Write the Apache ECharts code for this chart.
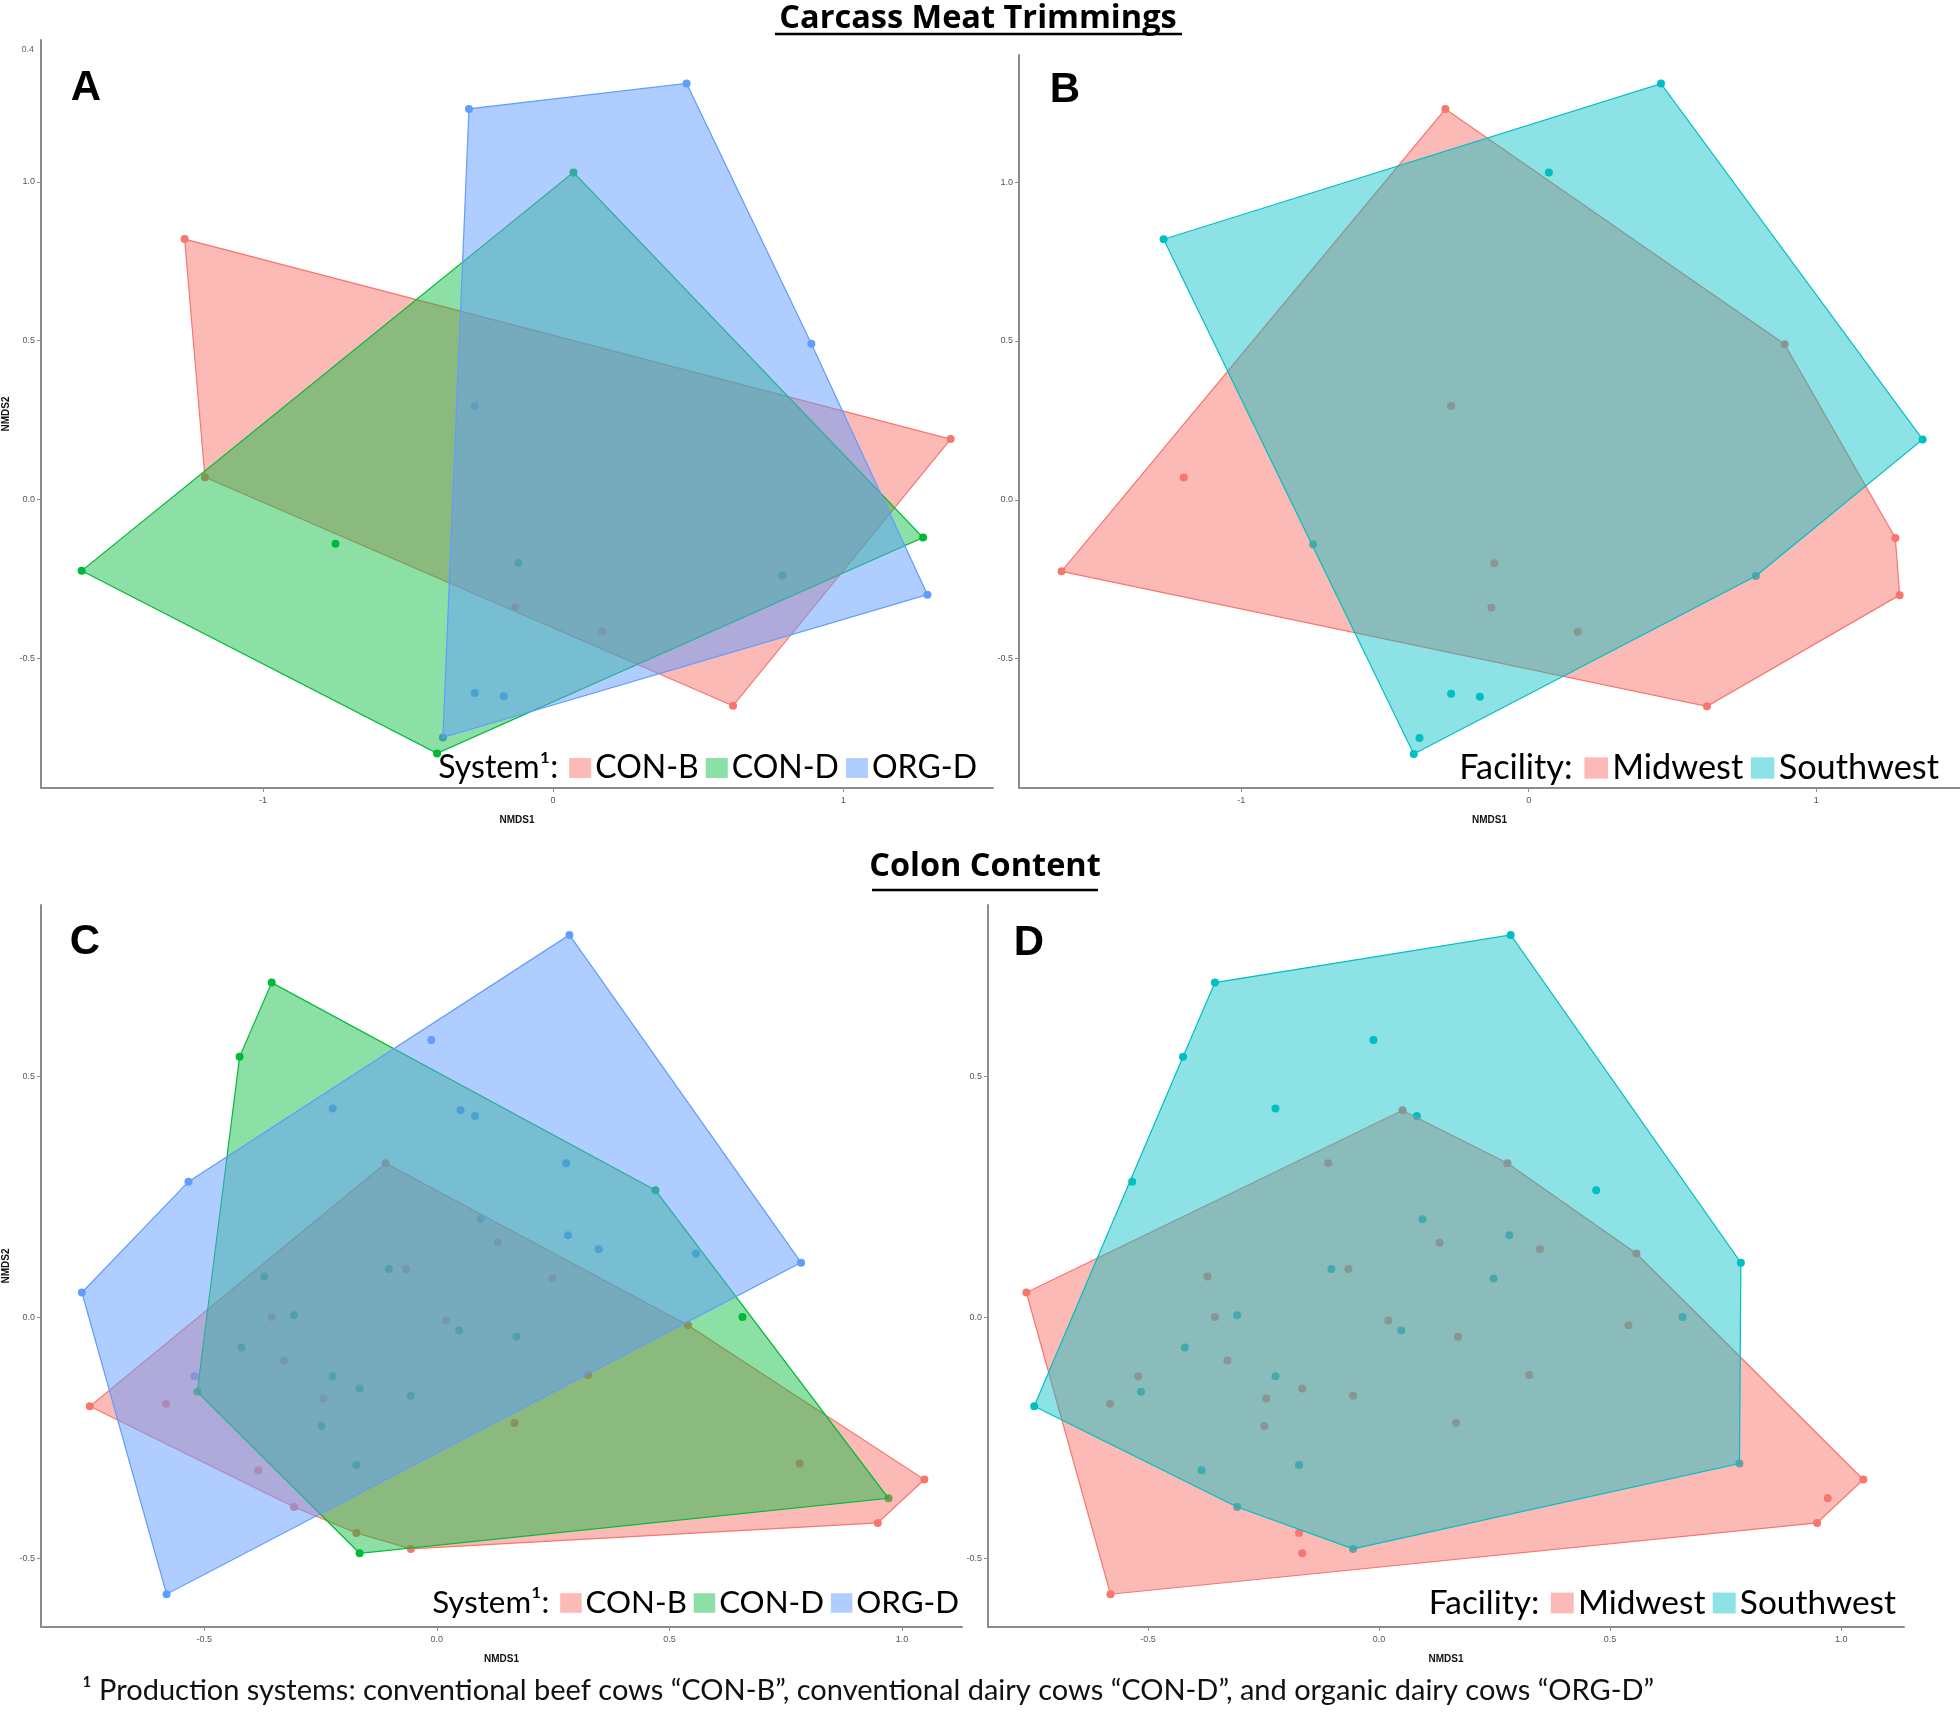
<!DOCTYPE html>
<html>
<head>
<meta charset="utf-8">
<script src="https://cdn.jsdelivr.net/npm/echarts@6/dist/echarts.min.js"></script>
<style>
html, body { margin: 0; background: #fff; }
#main { width: 1960px; height: 1717px; }
</style>
</head>
<body>
<div id="main"></div>
<script>
// carcass meat trimmings (panels A, B)
const carcassX = [-1.27, -1.20, 1.37, 0.62, -0.29, 0.46, 0.07, 0.89, 1.29, -0.38, -0.27,
  -0.17, -0.27, -0.40, -1.625, -0.75, 1.275, -0.12, -0.13, 0.17, 0.79]
const carcassY = [0.82, 0.07, 0.19, -0.65, 1.23, 1.31, 1.03, 0.49, -0.30, -0.75, -0.61,
  -0.62, 0.295, -0.80, -0.225, -0.14, -0.12, -0.20, -0.34, -0.415, -0.24]
const carcassSystem = ['CON-B', 'CON-B', 'CON-B', 'CON-B', 'ORG-D', 'ORG-D', 'CON-D', 'ORG-D', 'ORG-D', 'ORG-D', 'ORG-D',
  'ORG-D', 'ORG-D', 'CON-D', 'CON-D', 'CON-D', 'CON-D', 'CON-D', 'CON-B', 'CON-B', 'CON-D']
const carcassFacility = ['Southwest', 'Midwest', 'Southwest', 'Midwest', 'Midwest', 'Southwest', 'Southwest', 'Midwest', 'Midwest', 'Southwest', 'Southwest',
  'Southwest', 'Midwest', 'Southwest', 'Midwest', 'Southwest', 'Midwest', 'Midwest', 'Midwest', 'Midwest', 'Southwest']

// colon content (panels C, D)
const colonX = [0.285, 0.783, -0.763, -0.581, -0.534, -0.012, -0.224, 0.051, 0.082, 0.278,
  0.470, 0.282, 0.348, 0.557, 0.657, -0.582, -0.521, -0.515, -0.355, -0.424,
  -0.166, 0.971, -0.746, -0.110, 1.048, 0.948, -0.056, -0.173, -0.307, 0.540,
  0.780, -0.384, 0.094, 0.131, -0.103, -0.066, -0.371, -0.355, -0.307, 0.020,
  0.048, 0.248, 0.171, -0.420, -0.328, 0.325, -0.224, -0.166, -0.056, -0.244,
  -0.248, 0.167, -0.173]
const colonY = [0.793, 0.113, 0.051, -0.575, 0.281, 0.575, 0.433, 0.429, 0.417, 0.319,
  0.263, 0.170, 0.141, 0.132, 0.000, -0.180, -0.123, -0.155, 0.694, 0.540,
  -0.490, -0.376, -0.185, 0.319, -0.337, -0.427, -0.481, -0.448, -0.394, -0.017,
  -0.304, -0.318, 0.203, 0.154, 0.100, 0.100, 0.084, 0.000, 0.004, -0.007,
  -0.028, 0.080, -0.041, -0.063, -0.090, -0.120, -0.123, -0.148, -0.163, -0.169,
  -0.226, -0.220, -0.307]
const colonSystem = ['ORG-D', 'ORG-D', 'ORG-D', 'ORG-D', 'ORG-D', 'ORG-D', 'ORG-D', 'ORG-D', 'ORG-D', 'ORG-D',
  'CON-D', 'ORG-D', 'ORG-D', 'ORG-D', 'CON-D', 'CON-B', 'ORG-D', 'CON-D', 'CON-D', 'CON-D',
  'CON-D', 'CON-D', 'CON-B', 'CON-B', 'CON-B', 'CON-B', 'CON-B', 'CON-B', 'CON-B', 'CON-B',
  'CON-B', 'CON-B', 'ORG-D', 'CON-B', 'CON-D', 'CON-B', 'CON-D', 'CON-B', 'CON-D', 'CON-B',
  'CON-D', 'CON-B', 'CON-D', 'CON-D', 'CON-B', 'CON-B', 'CON-D', 'CON-D', 'CON-D', 'CON-B',
  'CON-D', 'CON-B', 'CON-D']
const colonFacility = ['Southwest', 'Southwest', 'Midwest', 'Midwest', 'Southwest', 'Southwest', 'Southwest', 'Midwest', 'Southwest', 'Midwest',
  'Southwest', 'Southwest', 'Midwest', 'Midwest', 'Southwest', 'Midwest', 'Midwest', 'Southwest', 'Southwest', 'Southwest',
  'Midwest', 'Midwest', 'Southwest', 'Midwest', 'Midwest', 'Midwest', 'Southwest', 'Midwest', 'Southwest', 'Midwest',
  'Southwest', 'Southwest', 'Southwest', 'Midwest', 'Southwest', 'Midwest', 'Midwest', 'Midwest', 'Southwest', 'Midwest',
  'Southwest', 'Southwest', 'Midwest', 'Southwest', 'Midwest', 'Midwest', 'Southwest', 'Midwest', 'Midwest', 'Midwest',
  'Midwest', 'Midwest', 'Southwest']

const systemNames = ['CON-B', 'CON-D', 'ORG-D']
const facilityNames = ['Midwest', 'Southwest']
const carcassXTicks = [-1, 0, 1]
const carcassYTicks = [-0.5, 0, 0.5, 1]
const colonXTicks = [-0.5, 0, 0.5, 1]
const colonYTicks = [-0.5, 0, 0.5]

const systemColors = ['#F8766D', '#00BA38', '#619CFF']
const systemAlpha = [0.5, 0.45, 0.5]
const facilityColors = ['#F8766D', '#00BFC4']
const facilityAlpha = [0.5, 0.45]

function rgba (hex, a) {
  const n = parseInt(hex.slice(1), 16)
  return 'rgba(' + (n >> 16) + ',' + ((n >> 8) & 255) + ',' + (n & 255) + ',' + a + ')'
}

// convex hull (monotone chain)
function hull (pts) {
  const p = pts.slice().sort((a, b) => a[0] - b[0] || a[1] - b[1])
  const cross = (o, a, b) => (a[0] - o[0]) * (b[1] - o[1]) - (a[1] - o[1]) * (b[0] - o[0])
  const lower = []
  const upper = []
  for (const q of p) {
    while (lower.length >= 2 && cross(lower[lower.length - 2], lower[lower.length - 1], q) <= 0) lower.pop()
    lower.push(q)
  }
  for (let i = p.length - 1; i >= 0; i--) {
    const q = p[i]
    while (upper.length >= 2 && cross(upper[upper.length - 2], upper[upper.length - 1], q) <= 0) upper.pop()
    upper.push(q)
  }
  upper.pop()
  lower.pop()
  return lower.concat(upper)
}

const panels = [
  { grid: { left: 39, top: 40, width: 954, height: 748 }, x: [-1.765, 1.516], y: [-0.909, 1.447],
    xs: carcassX, ys: carcassY, grp: carcassSystem, names: systemNames, colors: systemColors, alpha: systemAlpha,
    xTicks: carcassXTicks, yTicks: carcassYTicks, xDec: 0, yName: true },
  { grid: { left: 1019, top: 55, width: 941, height: 733 }, x: [-1.773, 1.5], y: [-0.907, 1.4],
    xs: carcassX, ys: carcassY, grp: carcassFacility, names: facilityNames, colors: facilityColors, alpha: facilityAlpha,
    xTicks: carcassXTicks, yTicks: carcassYTicks, xDec: 0, yName: false },
  { grid: { left: 39, top: 905, width: 923, height: 722 }, x: [-0.851, 1.129], y: [-0.643, 0.855],
    xs: colonX, ys: colonY, grp: colonSystem, names: systemNames, colors: systemColors, alpha: systemAlpha,
    xTicks: colonXTicks, yTicks: colonYTicks, xDec: 1, yName: true },
  { grid: { left: 988, top: 905, width: 916, height: 722 }, x: [-0.846, 1.136], y: [-0.643, 0.855],
    xs: colonX, ys: colonY, grp: colonFacility, names: facilityNames, colors: facilityColors, alpha: facilityAlpha,
    xTicks: colonXTicks, yTicks: colonYTicks, xDec: 1, yName: false }
]

const axisLine = { show: true, onZero: false, lineStyle: { color: '#8c8c8c', width: 2 } }
const axisTick = { show: true, length: 4, lineStyle: { color: '#8c8c8c', width: 1 } }
const tickFont = { fontSize: 9, color: '#555', fontFamily: 'Liberation Sans' }
const nameFont = { fontSize: 10, fontWeight: 'bold', color: '#111', fontFamily: 'Liberation Sans' }

const grids = []
const xAxes = []
const yAxes = []
const series = []

panels.forEach((p, i) => {
  grids.push(p.grid)
  xAxes.push({
    gridIndex: i, type: 'value', min: p.x[0], max: p.x[1],
    axisLine: axisLine,
    axisTick: Object.assign({ customValues: p.xTicks }, axisTick),
    axisLabel: Object.assign({ customValues: p.xTicks, margin: 8, formatter: v => v.toFixed(p.xDec) }, tickFont),
    splitLine: { show: false },
    name: 'NMDS1', nameLocation: 'middle', nameGap: 27, nameTextStyle: nameFont
  })
  yAxes.push({
    gridIndex: i, type: 'value', min: p.y[0], max: p.y[1],
    axisLine: axisLine,
    axisTick: Object.assign({ customValues: p.yTicks }, axisTick),
    axisLabel: Object.assign({ customValues: p.yTicks, margin: 6, formatter: v => v.toFixed(1) }, tickFont),
    splitLine: { show: false },
    name: p.yName ? 'NMDS2' : '', nameLocation: 'middle', nameGap: 30, nameRotate: 90, nameTextStyle: nameFont
  })
  // points first, hulls drawn over them
  p.names.forEach((g, k) => {
    const pts = []
    p.xs.forEach((v, j) => { if (p.grp[j] === g) pts.push([v, p.ys[j]]) })
    series.push({
      type: 'scatter', name: g, xAxisIndex: i, yAxisIndex: i, z: 2,
      symbolSize: 8, itemStyle: { color: p.colors[k], opacity: 1 },
      data: pts
    })
  })
  p.names.forEach((g, k) => {
    const pts = []
    p.xs.forEach((v, j) => { if (p.grp[j] === g) pts.push([v, p.ys[j]]) })
    const h = hull(pts)
    series.push({
      type: 'custom', name: g, xAxisIndex: i, yAxisIndex: i, z: 3 + k,
      data: h,
      renderItem: function (params, api) {
        if (params.dataIndex !== 0) return
        return {
          type: 'polygon',
          shape: { points: h.map(q => api.coord(q)) },
          style: { fill: rgba(p.colors[k], p.alpha[k]), stroke: p.colors[k], lineWidth: 1.2 }
        }
      }
    })
  })
})

function legendText (label, names, colors, alpha, fs) {
  const f = fs / 32
  const rich = {
    t: { fontSize: fs, fontFamily: 'Lato', color: '#111' },
    g1: { width: 11 * f },
    g2: { width: 4 * f },
    g3: { width: 7 * f }
  }
  let s = '{t|' + label + '}{g1|}'
  names.forEach((n, k) => {
    rich['b' + k] = { width: 22 * f, height: 20 * f, backgroundColor: rgba(colors[k], alpha[k]) }
    s += (k ? '{g3|}' : '') + '{b' + k + '|}{g2|}{t|' + n + '}'
  })
  return { text: s, rich: rich }
}

function legend (right, y, fs, label, names, colors, alpha) {
  const l = legendText(label, names, colors, alpha, fs)
  return {
    type: 'text', x: right, y: y, z: 100,
    style: { text: l.text, rich: l.rich, align: 'right', verticalAlign: 'middle' }
  }
}

function letter (t, x, y) {
  return {
    type: 'text', x: x, y: y, z: 100,
    style: { text: t, fontSize: 42, fontWeight: 'bold', fontFamily: 'Liberation Sans', fill: '#000', align: 'center', verticalAlign: 'middle' }
  }
}

function heading (t, cx, cy, x1, x2, uy) {
  return [
    { type: 'text', x: cx, y: cy, z: 100,
      style: { text: t, fontSize: 32.5, fontWeight: 'bold', fontFamily: 'Open Sans', fill: '#000', align: 'center', verticalAlign: 'middle' } },
    { type: 'line', z: 100, shape: { x1: x1, y1: uy, x2: x2, y2: uy }, style: { stroke: '#000', lineWidth: 2.5 } }
  ]
}

const graphic = [].concat(
  heading('Carcass Meat Trimmings', 978, 19, 775, 1182, 34),
  heading('Colon Content', 985, 867, 872, 1098, 890),
  [
    letter('A', 86, 88),
    letter('B', 1065, 90),
    letter('C', 85, 942),
    letter('D', 1029, 943),
    legend(977, 768, 32, 'System\u00b9:', systemNames, systemColors, systemAlpha),
    legend(1939, 768, 34.3, 'Facility:', facilityNames, facilityColors, facilityAlpha),
    legend(959, 1603, 31.3, 'System\u00b9:', systemNames, systemColors, systemAlpha),
    legend(1896, 1603, 33.4, 'Facility:', facilityNames, facilityColors, facilityAlpha),
    { type: 'text', x: 34, y: 50, z: 100,
      style: { text: '0.4', fontSize: 9, fontFamily: 'Liberation Sans', fill: '#666', align: 'right', verticalAlign: 'middle' } },
    { type: 'text', x: 82, y: 1691, z: 100,
      style: { text: '\u00b9 Production systems: conventional beef cows \u201cCON-B\u201d, conventional dairy cows \u201cCON-D\u201d, and organic dairy cows \u201cORG-D\u201d',
        fontSize: 29, fontFamily: 'Lato', fill: '#111', align: 'left', verticalAlign: 'middle' } }
  ]
)

const chart = echarts.init(document.getElementById('main'), null, { renderer: 'canvas' })
chart.setOption({
  backgroundColor: '#fff',
  animation: false,
  grid: grids,
  xAxis: xAxes,
  yAxis: yAxes,
  series: series,
  graphic: graphic
})
</script>
</body>
</html>
